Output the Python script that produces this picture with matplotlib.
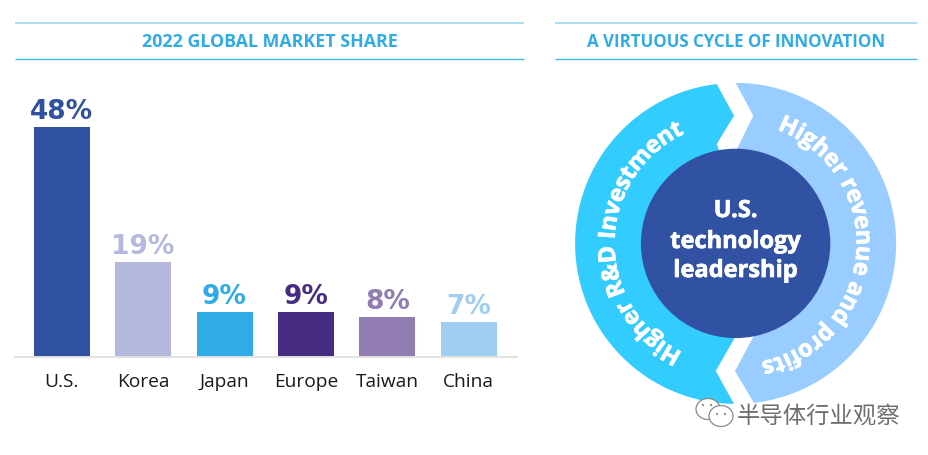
import numpy as np
import matplotlib
matplotlib.use("Agg")
import matplotlib.pyplot as plt
import matplotlib.patheffects as pe
from matplotlib.patches import Circle, Ellipse, Polygon
from matplotlib.textpath import TextPath
from matplotlib.font_manager import FontProperties

W, H = 929, 456

regions = ["U.S.", "Korea", "Japan", "Europe", "Taiwan", "China"]
bar_heights = [46, 19, 9, 9, 8, 7]  # as drawn, the U.S. bar is a bit short of its label
share_labels = ["48%", "19%", "9%", "9%", "8%", "7%"]
bar_colors = ["#3152A2", "#B5B8DD", "#2FACE6", "#452C82", "#917DB1", "#A0CEF1"]
label_colors = ["#3152A2", "#B5B8DD", "#2FACE6", "#452C82", "#917DB1", "#A0CEF1"]

TITLE_FONT = "Open Sans"
blue = "#2FACE6"
heavy = [pe.withStroke(linewidth=0.5, foreground="white")]

fig = plt.figure(figsize=(W / 100, H / 100), dpi=100, facecolor="white")

# full page axes in pixels, for the headers and the cycle diagram
bg = fig.add_axes([0, 0, 1, 1])
bg.set_xlim(0, W)
bg.set_ylim(H, 0)
bg.axis("off")

for x0, x1, title, tsize in [(15, 524, "2022 GLOBAL MARKET SHARE", 12.8),
                             (555, 917, "A VIRTUOUS CYCLE OF INNOVATION", 12.2)]:
    bg.plot([x0, x1], [24, 24], color="#92D5F0", lw=1.1, solid_capstyle="butt")
    bg.plot([x0, x1], [60, 60], color="#45BBEA", lw=1.0, solid_capstyle="butt")
    bg.text((x0 + x1) / 2 + 0.5, 42, title, color=blue, fontsize=tsize, fontweight="bold",
            family=TITLE_FONT, ha="center", va="center")

# bars, 5 px per unit, baseline at y=358
ax_left, ax_right, base_y = 15, 517, 358
ax = fig.add_axes([ax_left / W, (H - base_y) / H, (ax_right - ax_left) / W, 250 / H])
ax.patch.set_alpha(0)
ax.set_ylim(0, 50)
ax.set_xlim(-0.573, 5.592)
x = np.arange(len(regions)) * 1.0
ax.bar(x, bar_heights, width=0.688, color=bar_colors)
for i, lab in enumerate(share_labels):
    ax.text(x[i], bar_heights[i] + 0.5, lab, color=label_colors[i], fontsize=19, fontweight="bold",
            family="DejaVu Sans", ha="center", va="bottom")
ax.set_xticks(x)
ax.set_xticklabels(regions, fontsize=13.8, family="Open Sans", color="#1a1a1a")
ax.tick_params(axis="x", length=0, pad=11)
ax.set_yticks([])
for s in ["top", "left", "right"]:
    ax.spines[s].set_visible(False)
ax.spines["bottom"].set_color("#E2E2E2")
ax.spines["bottom"].set_linewidth(1.4)

# cycle diagram
cx, cy = 735.6, 244.4
R_out, R_in = 160.5, 94.7


def arc(a0, a1, n=120):
    t = np.radians(np.linspace(a0, a1, n))
    return np.column_stack([cx + R_out * np.cos(t), cy - R_out * np.sin(t)])


def ang(px, py):
    return np.degrees(np.arctan2(cy - py, px - cx))


left_pts = np.vstack([
    arc(ang(716.7, 85.7), 360 + ang(734, 405)),
    [[734, 405], [715.7, 372], [734, 340], [735, 244], [736, 200], [716.7, 145], [734, 116.7]],
])
right_pts = np.vstack([
    arc(ang(735.7, 84), ang(753.3, 403)),
    [[753.3, 403], [735, 372], [753.3, 338], [760, 244], [737, 150], [753.3, 116.7]],
])
bg.add_patch(Polygon(left_pts, closed=True, fc="#33CCFF", ec="none"))
bg.add_patch(Polygon(right_pts, closed=True, fc="#99CCFF", ec="none"))
bg.add_patch(Circle((cx, cy), R_in, fc="#3152A2", ec="none", zorder=3))

for line, yy in [("U.S.", 212), ("technology", 243), ("leadership", 272)]:
    bg.text(cx, yy, line, color="white", fontsize=17, fontweight="bold", family="Open Sans",
            ha="center", va="center", zorder=4, path_effects=heavy)


def curved(text, start, end, r, size):
    # one rotated text per letter, going clockwise, tops pointing outward
    fp = FontProperties(family="Open Sans", weight="bold", size=size)
    bar_w = TextPath((0, 0), "|", prop=fp).get_extents().x1
    edges = [0.0]
    for i in range(len(text)):
        edges.append(TextPath((0, 0), text[: i + 1] + "|", prop=fp).get_extents().x1 - bar_w)
    total = edges[-1]
    for i, ch in enumerate(text):
        mid = (edges[i] + edges[i + 1]) / 2
        a = start + (end - start) * mid / total
        t = np.radians(a)
        bg.text(cx + r * np.cos(t), cy - r * np.sin(t), ch, color="white", fontproperties=fp,
                rotation=a - 90, rotation_mode="anchor", ha="center", va="center", zorder=4,
                path_effects=heavy)


curved("Higher R&D Investment", 244, 115, 127, 17)
curved("Higher revenue and profits", 70, -78, 127, 17)

# watermark
gray = "#8A8A8A"
for (ex, ey, ew, eh) in [(708, 410, 24, 21), (721, 417, 24, 21)]:
    bg.add_patch(Ellipse((ex, ey), ew, eh, fc="white", ec=gray, lw=0.9, zorder=5))
for (ex, ey) in [(703, 406), (711, 406), (717, 415), (725, 415)]:
    bg.add_patch(Circle((ex, ey), 1.1, fc=gray, ec="none", zorder=6))
bg.text(819, 416, "半导体行业观察", color="#6E6E6E", fontsize=16.8,
        family=["Noto Sans CJK SC", "DejaVu Sans"], ha="center", va="center", zorder=6)

fig.savefig("out.png", dpi=100)
